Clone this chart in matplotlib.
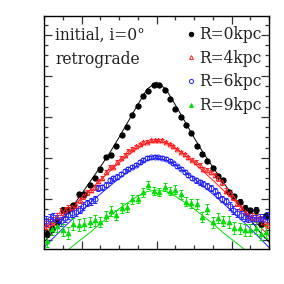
import numpy as np
import matplotlib
matplotlib.use("Agg")
import matplotlib.pyplot as plt
from matplotlib.ticker import MultipleLocator
from matplotlib.lines import Line2D

# ---------------- data ----------------
labels = ["R=0kpc", "R=4kpc", "R=6kpc", "R=9kpc"]

x_coarse = np.linspace(-6, 6, 43)[:-1] + 6.0 / 42   # 42 bins
x_fine = np.linspace(-5.9, 5.9, 60)                  # 60 bins

y_r0 = [0.15, 0.27, 0.44, 0.73, 0.73, 0.85, 1.11, 1.11, 1.34, 1.51, 1.72, 2.03, 2.07, 2.30,
        2.56, 2.76, 3.04, 3.27, 3.50, 3.63, 3.78,
        3.78, 3.65, 3.44, 3.20, 2.99, 2.80, 2.61, 2.28, 2.10, 1.93, 1.76, 1.57, 1.46, 1.17,
        1.07, 0.93, 0.79, 0.72, 0.73, 0.39, 0.59]
e_r0 = [0.08, 0.08, 0.07, 0.07, 0.07, 0.06, 0.06, 0.06, 0.05, 0.05, 0.05, 0.04, 0.04, 0.04,
        0.03, 0.03, 0.03, 0.03, 0.03, 0.03, 0.03,
        0.03, 0.03, 0.03, 0.03, 0.03, 0.03, 0.03, 0.04, 0.04, 0.04, 0.05, 0.05, 0.05, 0.06,
        0.06, 0.06, 0.07, 0.07, 0.07, 0.08, 0.08]

y_r4 = [0.37, 0.41, 0.46, 0.57, 0.70, 0.73, 0.77, 0.80, 0.85, 0.98, 1.07, 1.16, 1.23, 1.28,
        1.43, 1.52, 1.66, 1.78, 1.79, 1.90, 2.01, 2.07, 2.17, 2.23, 2.28, 2.33, 2.38, 2.40,
        2.43, 2.44,
        2.44, 2.43, 2.39, 2.34, 2.28, 2.22, 2.15, 2.09, 2.02, 1.96, 1.90, 1.83, 1.74, 1.70,
        1.66, 1.59, 1.50, 1.41, 1.20, 1.15, 1.04, 0.90, 0.80, 0.68, 0.62, 0.57, 0.54, 0.50,
        0.45, 0.40]
e_r4 = [0.10, 0.10, 0.09, 0.09, 0.09, 0.08, 0.08, 0.08, 0.07, 0.07, 0.07, 0.06, 0.06, 0.06,
        0.05, 0.05, 0.05, 0.05, 0.04, 0.04, 0.04, 0.04, 0.04, 0.03, 0.03, 0.03, 0.03, 0.03,
        0.03, 0.03,
        0.03, 0.03, 0.03, 0.03, 0.03, 0.03, 0.03, 0.04, 0.04, 0.04, 0.04, 0.04, 0.05, 0.05,
        0.05, 0.05, 0.06, 0.06, 0.06, 0.07, 0.07, 0.07, 0.08, 0.08, 0.08, 0.09, 0.09, 0.09,
        0.10, 0.10]

y_r6 = [0.46, 0.51, 0.56, 0.49, 0.46, 0.54, 0.61, 0.66, 0.68, 0.74, 0.83, 0.90, 0.94, 0.99,
        1.26, 1.28, 1.35, 1.46, 1.50, 1.54, 1.61, 1.68, 1.74, 1.79, 1.84, 1.90, 1.95, 2.00,
        2.02, 2.03,
        2.02, 2.01, 1.98, 1.93, 1.87, 1.80, 1.74, 1.66, 1.59, 1.52, 1.46, 1.41, 1.37, 1.32,
        1.27, 1.20, 1.10, 1.00, 0.95, 0.83, 0.73, 0.66, 0.61, 0.56, 0.54, 0.51, 0.50, 0.52,
        0.51, 0.56]
e_r6 = [0.12, 0.12, 0.11, 0.11, 0.11, 0.10, 0.10, 0.10, 0.09, 0.09, 0.09, 0.08, 0.08, 0.08,
        0.07, 0.07, 0.07, 0.06, 0.06, 0.06, 0.05, 0.05, 0.05, 0.04, 0.04, 0.04, 0.04, 0.04,
        0.04, 0.04,
        0.04, 0.04, 0.04, 0.04, 0.04, 0.04, 0.04, 0.05, 0.05, 0.05, 0.06, 0.06, 0.06, 0.07,
        0.07, 0.07, 0.08, 0.08, 0.08, 0.09, 0.09, 0.09, 0.10, 0.10, 0.10, 0.11, 0.11, 0.11,
        0.12, 0.12]

y_r9 = [-0.02, 0.27, 0.34, 0.24, 0.17, 0.39, 0.37, 0.39, 0.44, 0.48, 0.44, 0.59, 0.70, 0.60,
        0.78, 0.80, 0.99, 0.99, 1.16, 1.34, 1.20,
        1.17, 1.29, 1.20, 1.23, 1.12, 0.93, 0.89, 0.88, 0.56, 0.76, 0.43, 0.54, 0.46, 0.44,
        0.29, 0.28, 0.24, 0.24, 0.29, 0.15, 0.20]
e_r9 = [0.16, 0.16, 0.15, 0.15, 0.15, 0.14, 0.14, 0.14, 0.13, 0.13, 0.13, 0.12, 0.12, 0.12,
        0.11, 0.11, 0.11, 0.10, 0.10, 0.10, 0.10,
        0.10, 0.10, 0.10, 0.10, 0.11, 0.11, 0.11, 0.12, 0.12, 0.12, 0.13, 0.13, 0.13, 0.14,
        0.14, 0.14, 0.15, 0.15, 0.15, 0.16, 0.16]

# model curves read at |x| = 0, 0.5, ..., 6 (symmetric)
x_model_half = [0, 0.5, 1, 1.5, 2, 2.5, 3, 3.5, 4, 4.5, 5, 5.5, 6]
m_r0 = [3.85, 3.68, 3.30, 2.90, 2.50, 2.12, 1.78, 1.45, 1.12, 0.80, 0.50, 0.20, -0.05]
m_r4 = [2.42, 2.37, 2.24, 2.07, 1.88, 1.67, 1.46, 1.24, 1.02, 0.80, 0.57, 0.33, 0.10]
m_r6 = [2.00, 1.95, 1.83, 1.67, 1.50, 1.31, 1.12, 0.92, 0.71, 0.50, 0.28, 0.05, -0.18]
m_r9 = [1.22, 1.18, 1.07, 0.92, 0.76, 0.58, 0.40, 0.20, 0.02, -0.16, -0.35, -0.55, -0.75]

# ---------------- figure ----------------
fig = plt.figure(figsize=(2.84, 2.84), dpi=100)
ax = fig.add_axes([44 / 284, 1 - 249 / 284, 225 / 284, 233.3 / 284])

colors = ["black", "#ff2020", "#2020ff", "#00dd00"]
series = [
    (x_coarse, y_r0, e_r0, m_r0, "o", "black", 3.8, True),
    (x_fine, y_r4, e_r4, m_r4, "^", colors[1], 3.4, False),
    (x_fine, y_r6, e_r6, m_r6, "o", colors[2], 3.6, False),
    (x_coarse, y_r9, e_r9, m_r9, "^", colors[3], 3.4, True),
]

xm_half = np.array(x_model_half)
handles = []
for (xs, ys, es, ms, mk, col, msz, filled) in series:
    xm = np.concatenate([-xm_half[::-1], xm_half[1:]])
    ym = np.concatenate([np.array(ms)[::-1], np.array(ms)[1:]])
    ax.plot(xm, ym, color=col, lw=0.7, zorder=2)
    ax.errorbar(xs, ys, yerr=es, fmt=mk, color=col, ms=msz,
                mfc=col if filled else "none", mec=col, mew=0.7,
                elinewidth=0.6, capsize=1.5, capthick=0.6, zorder=3)
    handles.append(Line2D([], [], ls="none", marker=mk, color=col, ms=msz - 0.6,
                          mfc=col if filled else "none", mec=col, mew=0.7))

ax.set_xlim(-6, 6)
ax.set_ylim(-0.22, 5.47)
ax.xaxis.set_major_locator(MultipleLocator(4))
ax.xaxis.set_minor_locator(MultipleLocator(1))
ax.yaxis.set_major_locator(MultipleLocator(1))
ax.yaxis.set_minor_locator(MultipleLocator(0.25))
ax.tick_params(which="both", direction="in", top=True, right=True,
               labelbottom=False, labelleft=False, width=0.9, color="#333333")
ax.tick_params(which="major", length=5.8)
ax.tick_params(which="minor", length=2.9)
for s in ax.spines.values():
    s.set_linewidth(1.0)

font = "DejaVu Serif"
fs = 11.2
ax.text(0.05, 0.915, "initial, i=0°", transform=ax.transAxes, fontsize=fs,
        family=font, va="center", ha="left", color="#222222")
ax.text(0.05, 0.813, "retrograde", transform=ax.transAxes, fontsize=fs,
        family=font, va="center", ha="left", color="#222222")

leg = ax.legend(handles, labels, loc="upper right", bbox_to_anchor=(0.993, 0.981),
                frameon=False, handlelength=0.6, handletextpad=0.2,
                labelspacing=0.42, borderaxespad=0.0,
                prop={"family": font, "size": fs})
for t in leg.get_texts():
    t.set_color("#222222")

fig.savefig("out.png", dpi=100)
